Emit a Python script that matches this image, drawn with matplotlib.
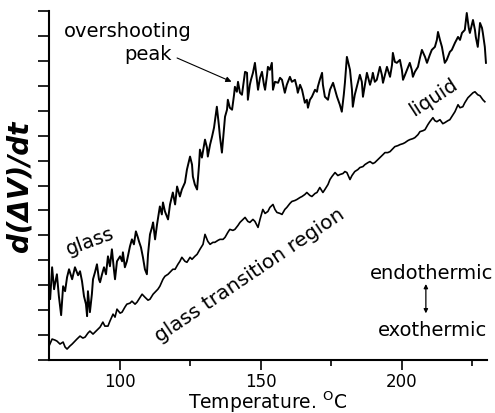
"""Dilatometric derivative curves: glass vs. glass transition region."""
import matplotlib
matplotlib.use("Agg")
import matplotlib.pyplot as plt
import numpy as np

plt.rcParams["font.family"] = ["DejaVu Sans"]
plt.rcParams["mathtext.fontset"] = "dejavusans"

# upper trace (glass, with overshooting peak), temperature in C, signal in a.u.
temp_upper = [
    75.0, 75.4, 76.1, 76.8, 77.1, 77.8, 78.5, 79.3, 80.0, 80.7, 81.4, 82.1, 83.2, 84.2, 85.3, 86.0,
    86.7, 87.4, 88.1, 88.5, 88.8, 89.5, 90.2, 90.6, 91.3, 92.0, 92.7, 93.1, 93.8, 94.5, 95.2, 95.9,
    96.6, 97.3, 98.0, 98.4, 99.1, 100.2, 100.9, 101.2, 101.9, 102.6, 103.7, 104.4, 105.1, 105.8, 106.5, 106.9,
    107.6, 108.3, 109.0, 109.7, 110.1, 110.8, 111.5, 111.9, 112.6, 113.3, 114.3, 115.0, 115.4, 116.1, 117.2, 117.9,
    118.9, 119.7, 120.4, 121.4, 122.1, 123.2, 123.9, 125.0, 125.7, 126.0, 126.7, 127.5, 128.2, 128.5, 129.2, 130.3,
    131.0, 131.3, 132.1, 132.8, 133.5, 134.5, 135.2, 135.6, 136.3, 137.0, 137.4, 138.1, 138.4, 139.1, 139.9, 140.6,
    140.9, 141.6, 142.0, 142.7, 143.4, 144.1, 144.5, 145.2, 145.5, 146.2, 146.6, 147.3, 148.0, 148.7, 149.1, 149.8,
    150.5, 151.2, 151.6, 152.3, 152.6, 153.3, 154.0, 154.4, 155.1, 156.2, 156.9, 157.6, 158.6, 159.3, 160.4, 161.1,
    162.2, 162.9, 163.2, 164.0, 164.7, 165.7, 166.4, 166.8, 167.5, 168.2, 169.3, 170.0, 170.3, 171.0, 171.8, 172.1,
    172.8, 173.9, 174.6, 175.7, 176.4, 177.1, 178.1, 178.8, 179.5, 179.9, 180.6, 181.3, 181.7, 182.4, 182.7, 183.4,
    184.5, 185.2, 185.9, 186.3, 187.0, 187.7, 188.8, 189.5, 189.8, 190.5, 191.2, 192.3, 193.0, 193.4, 194.1, 194.8,
    195.9, 196.6, 196.9, 197.6, 198.3, 199.4, 200.1, 200.5, 201.2, 201.9, 202.9, 203.6, 204.0, 204.7, 205.8, 206.5,
    207.2, 208.3, 209.0, 210.0, 210.7, 211.8, 212.5, 212.9, 213.6, 214.3, 215.0, 215.3, 216.0, 216.4, 217.1, 217.8,
    218.9, 220.0, 220.7, 221.4, 222.4, 222.8, 223.1, 223.8, 224.2, 224.9, 225.3, 226.0, 226.3, 227.0, 227.4, 227.8,
    228.5, 228.8, 229.5, 229.9,
]
signal_upper = [
    66, 61, 93, 71, 76, 86, 64, 45, 74, 69, 83, 91, 81, 93, 85, 89,
    79, 64, 56, 44, 69, 48, 66, 81, 88, 96, 81, 78, 86, 93, 86, 104,
    94, 111, 91, 81, 99, 104, 99, 108, 93, 99, 114, 121, 116, 129, 123, 119,
    113, 103, 91, 86, 106, 126, 133, 138, 121, 136, 154, 146, 158, 149, 141, 156,
    168, 156, 174, 164, 171, 178, 191, 204, 196, 184, 176, 171, 196, 211, 203, 221,
    213, 204, 216, 224, 233, 254, 236, 224, 208, 231, 244, 251, 261, 253, 251, 266,
    274, 269, 279, 268, 266, 281, 289, 288, 261, 276, 281, 288, 298, 281, 271, 283,
    289, 276, 271, 286, 294, 291, 298, 271, 279, 278, 283, 281, 268, 276, 284, 279,
    281, 273, 268, 276, 271, 258, 261, 253, 261, 264, 271, 269, 274, 281, 288, 276,
    264, 261, 271, 278, 271, 264, 256, 249, 266, 278, 304, 296, 291, 271, 254, 266,
    278, 286, 279, 264, 276, 288, 276, 283, 288, 279, 281, 294, 286, 278, 286, 294,
    284, 296, 308, 299, 298, 301, 291, 281, 286, 291, 298, 291, 284, 289, 294, 303,
    311, 304, 298, 306, 311, 314, 321, 329, 321, 314, 303, 298, 301, 304, 309, 311,
    318, 324, 321, 328, 331, 341, 348, 333, 328, 336, 341, 331, 324, 314, 326, 338,
    333, 328, 314, 298,
]

# lower trace (glass transition region -> liquid)
temp_lower = [
    75.0, 76.1, 77.1, 77.8, 78.9, 80.0, 80.7, 81.4, 82.4, 83.2, 84.2, 84.9, 86.0, 87.0, 87.8, 88.8,
    89.5, 90.6, 91.3, 92.4, 93.1, 94.1, 94.8, 95.9, 96.6, 97.7, 98.4, 99.1, 100.2, 100.9, 101.9, 102.6,
    103.7, 104.4, 105.5, 106.2, 107.3, 108.0, 109.0, 110.1, 110.8, 111.9, 112.6, 113.6, 114.3, 115.4, 116.1, 117.2,
    117.9, 118.9, 119.7, 120.7, 121.4, 122.1, 123.2, 123.9, 125.0, 125.7, 126.7, 127.5, 128.5, 129.6, 130.3, 131.3,
    132.1, 133.1, 133.8, 134.9, 135.6, 136.7, 137.4, 138.4, 139.1, 140.2, 140.9, 142.0, 142.7, 143.8, 144.5, 145.5,
    146.2, 147.3, 148.0, 149.1, 149.8, 150.8, 151.6, 152.6, 153.3, 154.4, 155.1, 155.8, 156.9, 157.6, 158.6, 159.3,
    160.4, 161.1, 162.2, 162.9, 164.0, 164.7, 165.7, 166.4, 167.5, 168.2, 169.3, 170.0, 171.0, 172.1, 172.8, 173.9,
    174.6, 175.3, 176.4, 177.4, 178.1, 179.2, 179.9, 180.6, 181.7, 182.4, 183.4, 184.5, 185.2, 186.3, 187.0, 188.1,
    188.8, 189.8, 190.5, 191.6, 192.3, 193.4, 194.1, 195.1, 195.9, 196.9, 197.6, 198.7, 199.4, 200.5, 201.2, 202.2,
    202.9, 204.0, 204.7, 205.8, 206.5, 207.6, 208.3, 209.3, 210.0, 211.1, 211.8, 212.5, 213.6, 214.6, 215.3, 216.4,
    217.1, 218.2, 218.9, 220.0, 220.7, 221.7, 222.4, 223.5, 224.2, 225.3, 226.0, 227.0, 227.8, 228.8, 229.5,
]
signal_lower = [
    14, 21, 20, 19, 16, 18, 13, 11, 14, 16, 19, 21, 24, 22, 23, 27,
    29, 26, 28, 31, 33, 38, 34, 34, 39, 46, 43, 51, 47, 48, 53, 56,
    57, 59, 56, 58, 63, 66, 63, 60, 61, 66, 68, 71, 74, 81, 84, 86,
    88, 91, 91, 96, 99, 103, 99, 98, 103, 101, 104, 106, 111, 116, 126, 119,
    116, 118, 118, 120, 121, 121, 123, 128, 131, 130, 131, 135, 138, 141, 143, 139,
    138, 141, 139, 133, 141, 151, 147, 149, 153, 156, 151, 148, 147, 146, 151, 153,
    157, 159, 160, 161, 163, 164, 166, 168, 165, 164, 167, 168, 173, 168, 171, 176,
    181, 184, 188, 185, 186, 187, 189, 188, 181, 185, 189, 191, 193, 194, 196, 198,
    199, 197, 198, 201, 203, 206, 208, 208, 209, 212, 214, 215, 216, 217, 218, 220,
    221, 222, 223, 226, 229, 230, 231, 236, 239, 243, 240, 239, 241, 237, 238, 240,
    241, 246, 249, 256, 253, 254, 258, 263, 265, 268, 269, 266, 265, 261, 259,
]

fig = plt.figure(figsize=(4.95, 4.14), dpi=100)
ax = fig.add_axes([0.099, 0.128, 0.885, 0.843])

ax.plot(temp_upper, signal_upper, color="black", lw=1.4)
ax.plot(temp_lower, signal_lower, color="black", lw=1.2)

ax.set_xlim(75, 230.3)
ax.set_ylim(0, 350)
ax.set_xticks([100, 150, 200])
ax.set_xticks([125, 175, 225], minor=True)
ax.set_yticks(np.arange(0, 351, 25))
ax.set_yticklabels([])
ax.tick_params(axis="x", which="major", direction="out", length=7, width=1.2, labelsize=12, pad=1.5)
ax.tick_params(axis="x", which="minor", direction="out", length=4, width=1.2)
ax.tick_params(axis="y", direction="out", length=8, width=1.2)
for side in ("top", "right"):
    ax.spines[side].set_visible(False)
for side in ("left", "bottom"):
    ax.spines[side].set_linewidth(1.5)

ax.set_xlabel("Temperature. $^{\\rm O}$C", fontsize=13.5, labelpad=-1)
ax.set_ylabel("d(\u0394V)/dt", fontsize=20, fontweight="bold", style="italic", labelpad=0)

ax.text(103.0, 325, "overshooting", fontsize=14, ha="center", va="baseline")
ax.text(110.1, 302, "peak", fontsize=14, ha="center", va="baseline")
ax.annotate("", xy=(140.6, 278), xytext=(119.5, 304),
            arrowprops=dict(arrowstyle="-|>", color="black", lw=0.8, mutation_scale=8))
ax.text(89.4, 120, "glass", fontsize=14, ha="center", va="center", rotation=20)
ax.text(146.0, 86, "glass transition region", fontsize=14.5, ha="center", va="center", rotation=34)
ax.text(211.1, 264, "liquid", fontsize=14, ha="center", va="center", rotation=33)
ax.text(210.7, 88, "endothermic", fontsize=14, ha="center", va="center")
ax.text(211.1, 31, "exothermic", fontsize=14, ha="center", va="center")
ax.annotate("", xy=(208.6, 79), xytext=(208.6, 44),
            arrowprops=dict(arrowstyle="<|-|>", color="black", lw=0.9, mutation_scale=6))

fig.savefig("out.png", dpi=100)
